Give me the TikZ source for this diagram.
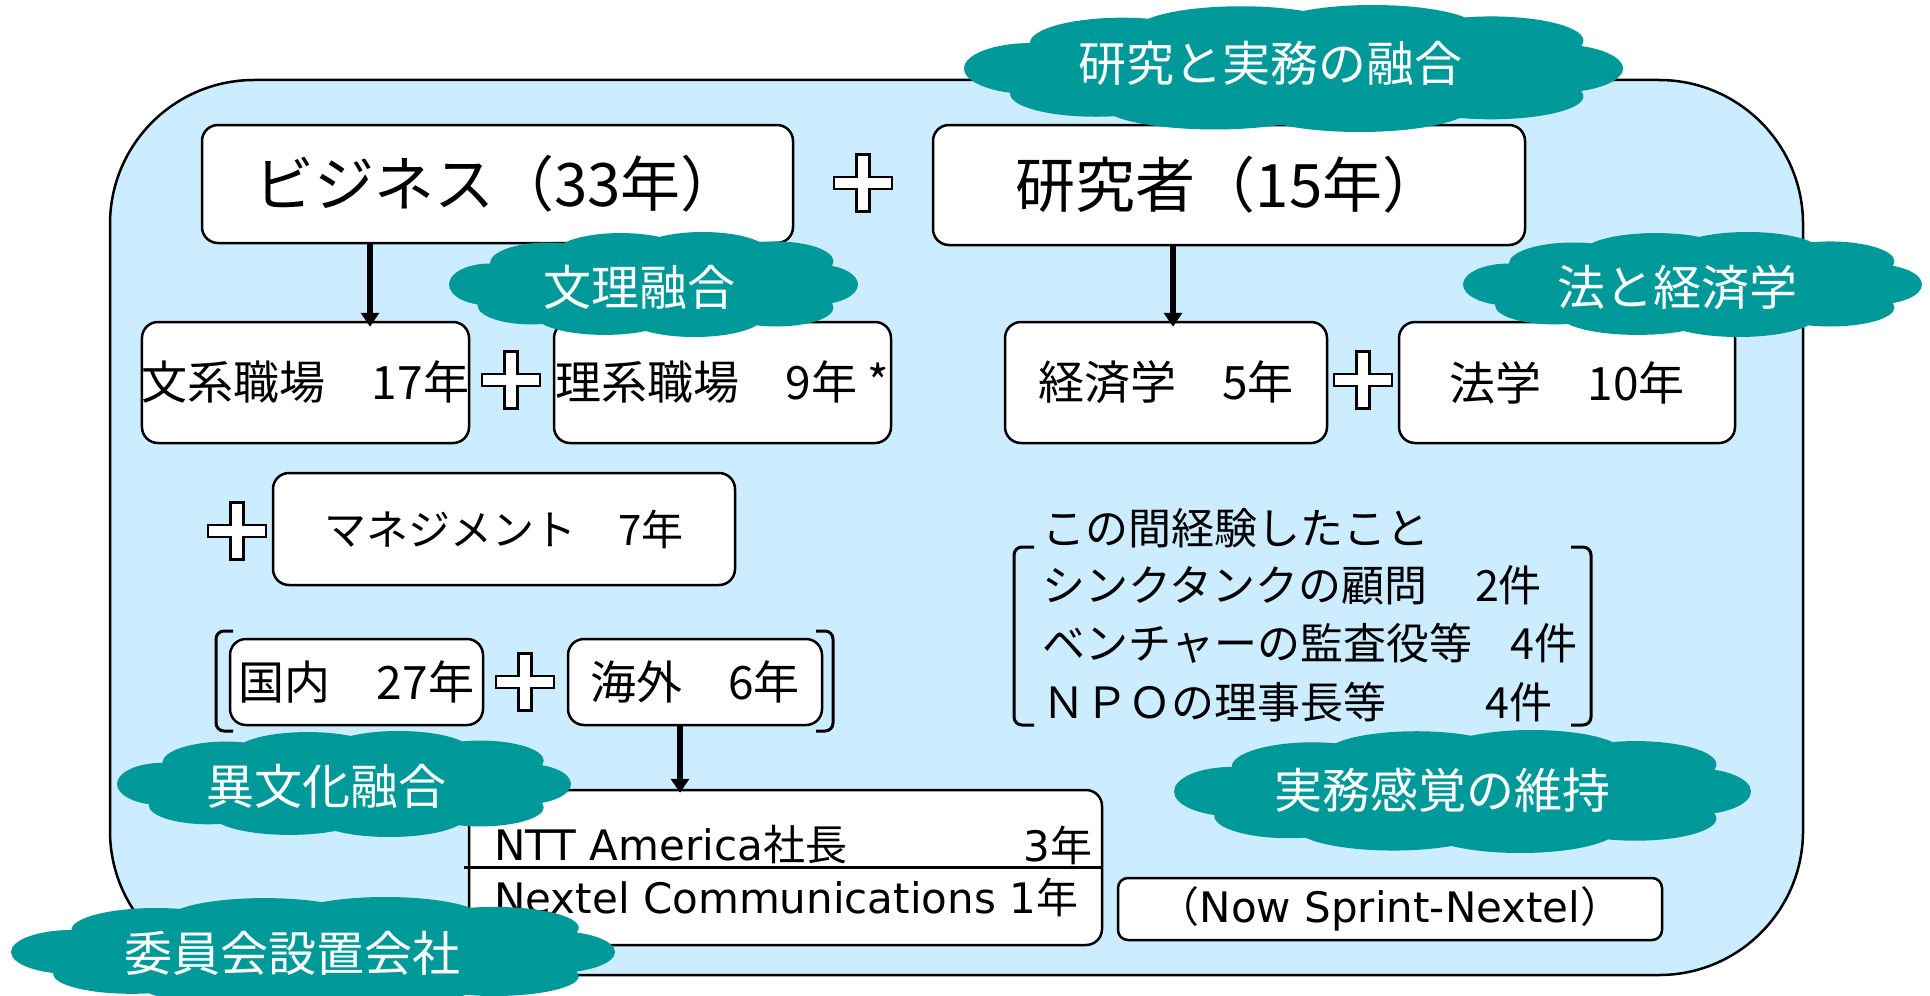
\documentclass[tikz,border=0pt]{standalone}
\usepackage{fontspec}
\newfontfamily\jp{Noto Sans CJK JP}
\newfontfamily\lat{DejaVu Sans}
\usetikzlibrary{arrows.meta}
\definecolor{bgblue}{RGB}{204,236,255}
\definecolor{tealc}{RGB}{0,153,153}
% cloud drawn inside a box: left, top, width, height (px)
\newcommand\cloudat[4]{%
\begin{scope}[shift={(#1,#2)}, xscale=#3, yscale=#4]
\fill[tealc]
 (0.10,0.50) ellipse [x radius=0.10, y radius=0.20]
 (0.24,0.30) ellipse [x radius=0.14, y radius=0.20]
 (0.42,0.20) ellipse [x radius=0.16, y radius=0.19]
 (0.62,0.19) ellipse [x radius=0.16, y radius=0.19]
 (0.80,0.28) ellipse [x radius=0.14, y radius=0.19]
 (0.90,0.50) ellipse [x radius=0.10, y radius=0.19]
 (0.80,0.72) ellipse [x radius=0.14, y radius=0.18]
 (0.60,0.80) ellipse [x radius=0.17, y radius=0.20]
 (0.38,0.79) ellipse [x radius=0.17, y radius=0.19]
 (0.20,0.70) ellipse [x radius=0.13, y radius=0.18]
 (0.50,0.50) ellipse [x radius=0.42, y radius=0.32];
\end{scope}}
\begin{document}
\begin{tikzpicture}[x=0.5pt,y=-0.5pt,
  box/.style={draw=black, line width=1.25pt, fill=white, rounded corners=8pt, inner sep=0pt, font=\jp},
  midtext/.style={font=\jp\fontsize{23pt}{26pt}\selectfont},
  cloudtext/.style={inner sep=0pt, text=white, font=\jp\fontsize{24pt}{27pt}\selectfont},
  arr/.style={line width=3pt, -{Triangle[length=7pt,width=9pt]}},
  brk/.style={line width=1.5pt, rounded corners=4pt},
  txt/.style={inner sep=0pt, font=\jp},
  plussign/.pic={\draw[line width=1.25pt, fill=white] (-6.5,-28.5) -- (6.5,-28.5) -- (6.5,-6) -- (29,-6) -- (29,6) -- (6.5,6) -- (6.5,28.5) -- (-6.5,28.5) -- (-6.5,6) -- (-29,6) -- (-29,-6) -- (-6.5,-6) -- cycle;}
]
\useasboundingbox (0,0) rectangle (1930,995);
% main panel
\draw[line width=1.25pt, fill=bgblue, rounded corners=72pt] (110,80) rectangle (1803,975);

% top boxes
\node[box, minimum width=295.5pt, minimum height=59pt, font=\jp\fontsize{30pt}{34pt}\selectfont] (biz) at (497.5,184) {ビジネス（33年）};
\node[box, minimum width=296pt, minimum height=60pt, font=\jp\fontsize{30pt}{34pt}\selectfont] (ken) at (1229,185) {研究者（15年）};
\pic at (863,183) {plussign};

% second row
\node[box, midtext, minimum width=162.5pt, minimum height=60.5pt] (bunkei) at (305.5,382.5) {文系職場　17年};
\node[box, midtext, minimum width=168.5pt, minimum height=60.5pt] (rikei) at (722.5,382.5) {理系職場　9年 *};
\node[box, midtext, minimum width=161pt, minimum height=60.5pt] (keizai) at (1166,382.5) {経済学　5年};
\node[box, midtext, minimum width=168pt, minimum height=60.5pt] (hou) at (1567,382.5) {法学　10年};
\pic at (511,380) {plussign};
\pic at (1363,380) {plussign};

% management
\pic at (237,531) {plussign};
\node[box, minimum width=231pt, minimum height=56pt, font=\jp\fontsize{21pt}{25pt}\selectfont] (mgmt) at (504,529) {マネジメント　7年};

% domestic / overseas
\draw[brk] (233,631) -- (216,631) -- (216,731) -- (233,731);
\draw[brk] (816,631) -- (833,631) -- (833,731) -- (816,731);
\node[box, midtext, minimum width=126.5pt, minimum height=43pt] (kokunai) at (356.5,682) {国内　27年};
\node[box, midtext, minimum width=127pt, minimum height=43pt] (kaigai) at (695,682) {海外　6年};
\pic at (525,682) {plussign};

% NTT box
\node[box, minimum width=316.5pt, minimum height=77.5pt] (ntt) at (785.5,867.5) {};
\coordinate (dv) at (0,867);
\draw[line width=1.5pt] ([xshift=-2pt]ntt.west |- dv) -- (ntt.east |- dv);
\node[txt, anchor=west, font=\jp\fontsize{21pt}{24pt}\selectfont] (ntt1) at (494,845) {{\lat NTT America}社長};
\node[txt, anchor=east, font=\jp\fontsize{21pt}{24pt}\selectfont] (ntt1y) at (1093,845) {{\lat 3}年};
\node[txt, anchor=west, font=\jp\fontsize{21pt}{24pt}\selectfont] (ntt2) at (494,897) {{\lat Nextel Communications 1}年};

% Now Sprint
\node[box, rounded corners=5pt, minimum width=272pt, minimum height=31pt, font=\jp\fontsize{21pt}{24pt}\selectfont] (now) at (1390,909) {（{\lat Now Sprint-Nextel}）};

% experience block
\draw[brk] (1034,547) -- (1014,547) -- (1014,725) -- (1034,725);
\draw[brk] (1571,547) -- (1591,547) -- (1591,725) -- (1571,725);
\node[txt, anchor=west, font=\jp\fontsize{21.5pt}{24pt}\selectfont] (e1) at (1042,528) {この間経験したこと};
\node[txt, anchor=west, font=\jp\fontsize{21.5pt}{24pt}\selectfont] (e2) at (1042,585) {シンクタンクの顧問\hspace{1.1em}2件};
\node[txt, anchor=west, font=\jp\fontsize{21.5pt}{24pt}\selectfont] (e3) at (1042,643) {ベンチャーの監査役等\hspace{0.9em}4件};
\node[txt, anchor=west, font=\jp\fontsize{21.5pt}{24pt}\selectfont] (e4) at (1042,702) {ＮＰＯの理事長等\hspace{2.3em}4件};

% arrows
\coordinate (a1) at (370,0);
\coordinate (a2) at (1173,0);
\coordinate (a3) at (680,0);
\draw[arr] (biz.south -| a1) -- ([yshift=-3pt]bunkei.north -| a1);
\draw[arr] (ken.south -| a2) -- ([yshift=-3pt]keizai.north -| a2);
\draw[arr] (kaigai.south -| a3) -- ([yshift=-2pt]ntt.north -| a3);

% clouds
\cloudat{964}{5}{659}{127}
\node[cloudtext] (c1) at (1270,63) {研究と実務の融合};
\cloudat{449}{232}{409}{105}
\node[cloudtext] (c2) at (639,287) {文理融合};
\cloudat{1463}{232}{459}{105}
\node[cloudtext] (c3) at (1677,287) {法と経済学};
\cloudat{117}{731}{454}{106}
\node[cloudtext] (c4) at (326,786) {異文化融合};
\cloudat{11}{897}{604}{110}
\node[cloudtext] (c5) at (292,953) {委員会設置会社};
\cloudat{1174}{730}{577}{123}
\node[cloudtext] (c6) at (1442,790) {実務感覚の維持};
\end{tikzpicture}
\end{document}
